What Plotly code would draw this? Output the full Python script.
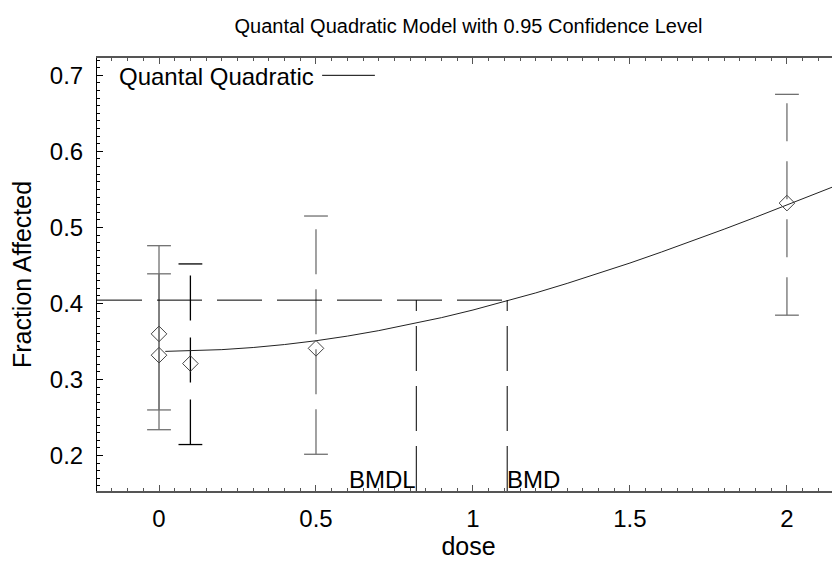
import plotly.graph_objects as go

# observed groups: dose, fraction affected, 95% limits
dose_obs = [0, 0, 0.1, 0.5, 2.0]
frac_obs = [0.360, 0.332, 0.321, 0.341, 0.532]
lower = [0.260, 0.234, 0.2145, 0.2017, 0.3846]
upper = [0.476, 0.439, 0.452, 0.515, 0.675]
bar_color = ['#707070', '#707070', '#000000', '#707070', '#707070']
bar_dash = ['solid', 'solid', '45px,17px', '45px,15px', '38px,20px']

# fitted quantal quadratic curve
dose_fit = [0.02, 0.1, 0.2, 0.3, 0.4, 0.5, 0.6, 0.7, 0.8, 0.9, 1.0, 1.1,
            1.2, 1.3, 1.4, 1.5, 1.6, 1.7, 1.8, 1.9, 2.0, 2.1, 2.2]
frac_fit = [0.3370, 0.3376, 0.3393, 0.3421, 0.3460, 0.3510, 0.3571, 0.3643,
            0.3724, 0.3814, 0.3914, 0.4023, 0.4139, 0.4264, 0.4395, 0.4532,
            0.4676, 0.4824, 0.4977, 0.5134, 0.5293, 0.5456, 0.5620]

bmd = 1.109
bmdl = 0.8195
bmr_level = 0.4044

x_range = [-0.1975, 2.169]
y_range = [0.1534, 0.7228]

font = "Arial, Liberation Sans, sans-serif"
fig = go.Figure()

# error bars
for i in range(len(dose_obs)):
    fig.add_trace(go.Scatter(x=[dose_obs[i], dose_obs[i]], y=[lower[i], upper[i]],
                             mode='lines', line=dict(color=bar_color[i], width=1.3, dash=bar_dash[i]),
                             showlegend=False, hoverinfo='skip'))
    fig.add_trace(go.Scatter(x=[dose_obs[i], dose_obs[i]], y=[lower[i], upper[i]],
                             mode='markers',
                             marker=dict(symbol='line-ew', size=17, color=bar_color[i],
                                         line=dict(color=bar_color[i], width=1.3)),
                             showlegend=False, hoverinfo='skip'))

# fitted curve
fig.add_trace(go.Scatter(x=dose_fit, y=frac_fit, mode='lines',
                         line=dict(color='#222222', width=1),
                         name='Quantal Quadratic', showlegend=False))

# observed means
fig.add_trace(go.Scatter(x=dose_obs, y=frac_obs, mode='markers',
                         marker=dict(symbol='diamond-open', size=12, color='#444444',
                                     line=dict(color='#444444', width=1)),
                         showlegend=False))

# BMD / BMDL reference lines
fig.add_trace(go.Scatter(x=[x_range[0], bmd], y=[bmr_level, bmr_level], mode='lines',
                         line=dict(color='black', width=1, dash='45px,15px'),
                         showlegend=False, hoverinfo='skip'))
for xv in [bmdl, bmd]:
    fig.add_trace(go.Scatter(x=[xv, xv], y=[y_range[0], bmr_level], mode='lines',
                             line=dict(color='black', width=1, dash='45px,15px'),
                             showlegend=False, hoverinfo='skip'))

fig.add_annotation(x=bmdl, y=0, xref='x', yref='paper', text='BMDL', showarrow=False,
                   xanchor='right', yanchor='bottom', yshift=-4, xshift=2,
                   font=dict(size=24, color='black', family=font))
fig.add_annotation(x=bmd, y=0, xref='x', yref='paper', text='BMD', showarrow=False,
                   xanchor='left', yanchor='bottom', yshift=-4, xshift=-2,
                   font=dict(size=24, color='black', family=font))

# legend drawn by hand: text then line sample
fig.add_annotation(x=0.027, y=0.958, xref='paper', yref='paper', text='Quantal Quadratic',
                   showarrow=False, xanchor='left', yanchor='middle',
                   font=dict(size=24, color='black', family=font))
fig.add_shape(type='line', xref='paper', yref='paper', x0=0.303, x1=0.374, y0=0.96, y1=0.96,
              line=dict(color='black', width=1))

# page body adds an 8px offset, so the figure is 8px smaller each way
fig.update_layout(
    width=832, height=557,
    margin=dict(l=89, r=0, t=50, b=74),
    paper_bgcolor='white', plot_bgcolor='white',
    font=dict(family=font, size=24, color='black'),
    title=dict(text='Quantal Quadratic Model with 0.95 Confidence Level',
               x=0.5, xref='paper', xanchor='center', y=0.968, yanchor='middle',
               font=dict(size=20)),
)
fig.update_xaxes(range=x_range, tickvals=[0, 0.5, 1, 1.5, 2], ticktext=['0', '0.5', '1', '1.5', '2'],
                 ticks='inside', ticklen=6, tickcolor='#555', showline=True, linecolor='#555', linewidth=1.5,
                 mirror='ticks', showgrid=False, zeroline=False, ticklabelstandoff=5, automargin=False,
                 minor=dict(dtick=0.05, ticks='inside', ticklen=3, tickcolor='#555'),
                 title=dict(text='dose', standoff=4, font=dict(size=25)))
fig.update_yaxes(range=y_range, tickvals=[0.2, 0.3, 0.4, 0.5, 0.6, 0.7],
                 ticktext=['0.2', '0.3', '0.4', '0.5', '0.6', '0.7'],
                 ticks='inside', ticklen=6, tickcolor='black', showline=True, linecolor='black', linewidth=1,
                 mirror='ticks', showgrid=False, zeroline=False, ticklabelstandoff=8, automargin=False,
                 minor=dict(dtick=0.01, ticks='inside', ticklen=3, tickcolor='black'),
                 title=dict(text='Fraction Affected', standoff=12, font=dict(size=25)))

fig.write_html("out.html")
